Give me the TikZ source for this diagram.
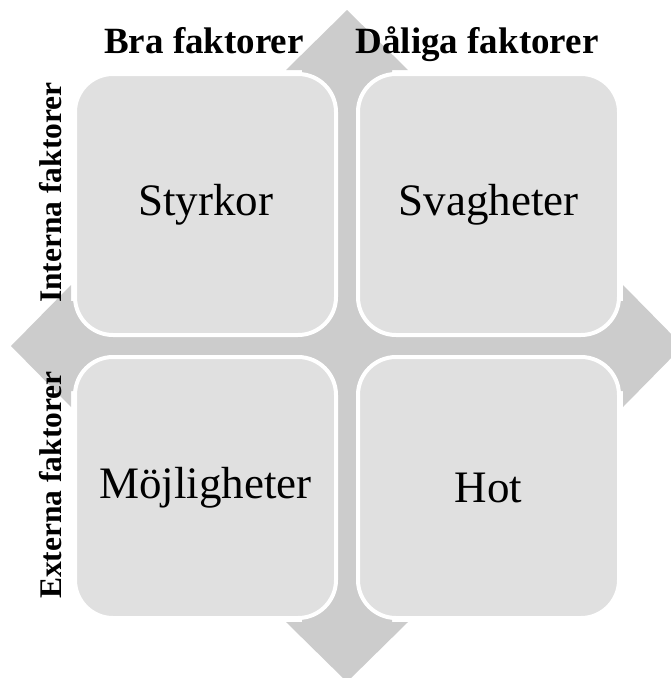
\documentclass[tikz,border=0pt]{standalone}
\usepackage{fontspec}
\setmainfont{Liberation Serif}
\definecolor{arrowgray}{HTML}{CCCCCC}
\definecolor{boxgray}{HTML}{E0E0E0}
\tikzset{
  quad/.style={draw=white, line width=4pt, fill=boxgray, rounded corners=38pt,
    minimum width=261pt, minimum height=261pt, inner sep=0pt,
    font=\fontsize{45}{50}\selectfont},
  hdr/.style={font=\bfseries\fontsize{37}{40}\selectfont, inner sep=0pt, anchor=base},
  side/.style={font=\bfseries\fontsize{31.5}{34}\selectfont, inner sep=0pt, anchor=base, rotate=90},
}
\begin{document}
\begin{tikzpicture}[x=1pt,y=-1pt]
\useasboundingbox (0,0) rectangle (670,678);
% background four-way arrow
\fill[arrowgray] (347,10) -- (408,70) -- (392,70) -- (392,301) -- (623,301) -- (623,285)
  -- (683,346) -- (623,407) -- (623,391) -- (392,391) -- (392,622) -- (408,622)
  -- (347,682) -- (286,622) -- (302,622) -- (302,391) -- (71,391) -- (71,407)
  -- (11,346) -- (71,285) -- (71,301) -- (302,301) -- (302,70) -- (286,70) -- cycle;
% boxes
\node[quad] (s) at (205.5,204.5) {Styrkor};
\node[quad] (w) at (488.5,204.5) {Svagheter};
\node[quad] (o) at (205.5,487.5) {Möjligheter};
\node[quad] (t) at (488.5,487.5) {Hot};
% headers
\node[hdr] (bra) at (204,53) {Bra faktorer};
\node[hdr] (dal) at (477,53) {Dåliga faktorer};
\node[side] (int) at (61,192.5) {Interna faktorer};
\node[side] (ext) at (61,485) {Externa faktorer};
\end{tikzpicture}
\end{document}
